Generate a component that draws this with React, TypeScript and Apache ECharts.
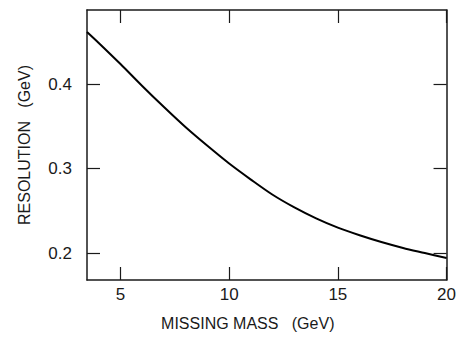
import React, { useEffect, useRef } from "react";
import * as echarts from "echarts";

const missingMass = [3.46, 4, 5, 6, 7, 8, 9, 10, 11, 12, 13, 14, 15, 16, 17, 18, 19, 20];
const resolution = [0.462, 0.449, 0.424, 0.398, 0.373, 0.349, 0.327, 0.306, 0.287, 0.269, 0.254, 0.241, 0.230, 0.221, 0.213, 0.206, 0.200, 0.194];
const xTicks = [5, 10, 15, 20];
const yTicks = [0.2, 0.3, 0.4];
const xName = "MISSING MASS   (GeV)";
const yName = "RESOLUTION   (GeV)";

export default function App() {
  const ref = useRef<HTMLDivElement>(null);
  useEffect(() => {
    if (!ref.current) return;
    const chart = echarts.init(ref.current, null, { renderer: "svg" });
    const font = "Liberation Sans";
    const col = "#1a1a1a";
    const lineStyle = { color: col, width: 1.5 };
    const tickCommon = { inside: true, length: 13, lineStyle: { color: col, width: 1.2 } };
    const xBase = {
      type: "value" as const,
      min: 3.46,
      max: 20,
      splitLine: { show: false },
      axisLine: { show: true, lineStyle },
    };
    const yBase = {
      type: "value" as const,
      min: 0.168,
      max: 0.488,
      splitLine: { show: false },
      axisLine: { show: true, lineStyle },
    };
    chart.setOption({
      animation: false,
      backgroundColor: "#fff",
      grid: { left: 77, right: 8, top: 2, bottom: 50, containLabel: false },
      xAxis: [
        {
          ...xBase,
          position: "bottom",
          name: xName,
          nameLocation: "middle",
          nameGap: 35,
          nameTextStyle: { fontFamily: font, fontSize: 16, color: col, padding: [0, 38, 0, 0] },
          axisTick: { ...tickCommon, customValues: xTicks },
          axisLabel: {
            customValues: xTicks,
            margin: 6,
            fontFamily: font,
            fontSize: 17,
            color: col,
          },
        },
        {
          ...xBase,
          position: "top",
          axisTick: { ...tickCommon, customValues: xTicks },
          axisLabel: { show: false },
        },
      ],
      yAxis: [
        {
          ...yBase,
          position: "left",
          name: yName,
          nameLocation: "middle",
          nameGap: 55,
          nameTextStyle: { fontFamily: font, fontSize: 16, color: col },
          axisTick: { ...tickCommon, customValues: yTicks },
          axisLabel: {
            customValues: yTicks,
            margin: 15,
            fontFamily: font,
            fontSize: 17,
            color: col,
            formatter: (v: number) => v.toFixed(1),
          },
        },
        {
          ...yBase,
          position: "right",
          axisTick: { ...tickCommon, customValues: yTicks },
          axisLabel: { show: false },
        },
      ],
      series: [
        {
          type: "line",
          xAxisIndex: 0,
          yAxisIndex: 0,
          data: missingMass.map((m, i) => [m, resolution[i]]),
          smooth: 0.3,
          showSymbol: false,
          lineStyle: { color: "#000", width: 2 },
        },
      ],
    });
    return () => chart.dispose();
  }, []);
  return <div ref={ref} style={{ width: 451, height: 328 }} />;
}
